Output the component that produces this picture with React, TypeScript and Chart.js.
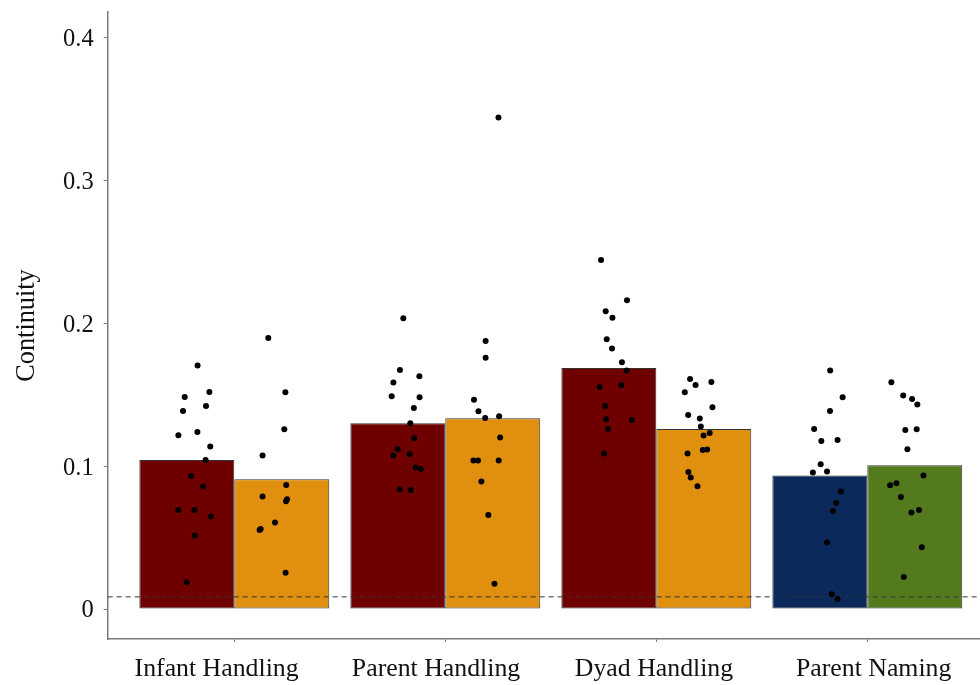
import React, { useEffect, useRef } from "react";
import { Chart, registerables } from "chart.js";

Chart.register(...registerables);

// Categories along the x axis
const categories = ["Infant Handling", "Parent Handling", "Dyad Handling", "Parent Naming"];
// Horizontal anchor of each category caption (category units)
const captionPositions = [0.916, 1.956, 2.989, 4.03];

// Mean continuity per bar (left and right bar of each category)
const leftBarValues = [0.1044, 0.1301, 0.1688, 0.0934];
const rightBarValues = [0.0908, 0.1336, 0.1261, 0.1007];
const leftBarColors = ["#6f0000", "#6f0000", "#6f0000", "#0b2a5b"];
const rightBarColors = ["#e0900e", "#e0900e", "#e0900e", "#537b1e"];

// Chance level drawn as a dashed reference line
const chanceLevel = 0.0085;

// Y tick values
const yTicks = [0, 0.1, 0.2, 0.3, 0.4];

// Individual participant scores, with horizontal jitter (category units) from bar centre
const infantLeftValues = [0.1705, 0.1485, 0.152, 0.1387, 0.1422, 0.1217, 0.124, 0.1137, 0.1044, 0.0932, 0.0857, 0.0694, 0.0694, 0.0647, 0.0514, 0.0187];
const infantLeftJitter = [0.051, -0.01, 0.107, -0.018, 0.091, -0.04, 0.05, 0.111, 0.089, 0.02, 0.077, -0.04, 0.036, 0.115, 0.037, -0.001];
const infantRightValues = [0.1898, 0.1518, 0.1259, 0.1074, 0.0869, 0.0787, 0.0768, 0.0754, 0.0605, 0.056, 0.0553, 0.0254];
const infantRightJitter = [-0.064, 0.017, 0.012, -0.091, 0.021, -0.091, 0.025, 0.02, -0.032, -0.1, -0.105, 0.018];

const parentLeftValues = [0.2036, 0.1674, 0.163, 0.1586, 0.149, 0.1483, 0.1408, 0.1301, 0.1196, 0.1119, 0.1083, 0.1074, 0.099, 0.0981, 0.0838, 0.0834];
const parentLeftJitter = [0.026, 0.01, 0.102, -0.021, -0.029, 0.103, 0.076, 0.059, 0.078, -0.001, 0.056, -0.021, 0.084, 0.109, 0.009, 0.061];
const parentRightValues = [0.3442, 0.1877, 0.176, 0.1466, 0.1385, 0.135, 0.1338, 0.12, 0.1039, 0.1039, 0.1039, 0.0892, 0.0659, 0.0177];
const parentRightJitter = [0.027, -0.034, -0.034, -0.089, -0.068, 0.03, -0.036, 0.035, -0.092, -0.07, 0.028, -0.054, -0.021, 0.008];

const dyadLeftValues = [0.2443, 0.2162, 0.2085, 0.2039, 0.1889, 0.1824, 0.1728, 0.167, 0.1567, 0.1555, 0.1422, 0.1329, 0.1324, 0.1261, 0.1088];
const dyadLeftJitter = [-0.037, 0.086, -0.015, 0.017, -0.01, 0.015, 0.062, 0.084, 0.059, -0.044, -0.018, -0.012, 0.109, -0.004, -0.023];
const dyadRightValues = [0.1611, 0.159, 0.1569, 0.1518, 0.1413, 0.1359, 0.1333, 0.1277, 0.1233, 0.1214, 0.1116, 0.1114, 0.1088, 0.096, 0.092, 0.086];
const dyadRightJitter = [-0.065, 0.036, -0.039, -0.09, 0.041, -0.074, -0.019, -0.014, 0.028, -0.001, 0.016, -0.005, -0.077, -0.073, -0.062, -0.03];

const namingLeftValues = [0.167, 0.1483, 0.1387, 0.1261, 0.1184, 0.1177, 0.1014, 0.0962, 0.0955, 0.0822, 0.0743, 0.0687, 0.0465, 0.0103, 0.007];
const namingLeftJitter = [0.049, 0.108, 0.048, -0.027, 0.084, 0.007, 0.004, 0.034, -0.033, 0.1, 0.078, 0.062, 0.034, 0.056, 0.084];
const namingRightValues = [0.1588, 0.1495, 0.1471, 0.1431, 0.1259, 0.1254, 0.1119, 0.0934, 0.0881, 0.0867, 0.0785, 0.0694, 0.0675, 0.0432, 0.0224];
const namingRightJitter = [-0.111, -0.055, -0.013, 0.012, 0.009, -0.045, -0.035, 0.041, -0.087, -0.117, -0.066, 0.02, -0.016, 0.033, -0.052];

const pointGroups = [
  { cat: 0, side: -1, values: infantLeftValues, jitter: infantLeftJitter },
  { cat: 0, side: 1, values: infantRightValues, jitter: infantRightJitter },
  { cat: 1, side: -1, values: parentLeftValues, jitter: parentLeftJitter },
  { cat: 1, side: 1, values: parentRightValues, jitter: parentRightJitter },
  { cat: 2, side: -1, values: dyadLeftValues, jitter: dyadLeftJitter },
  { cat: 2, side: 1, values: dyadRightValues, jitter: dyadRightJitter },
  { cat: 3, side: -1, values: namingLeftValues, jitter: namingLeftJitter },
  { cat: 3, side: 1, values: namingRightValues, jitter: namingRightJitter },
];

const CATEGORY_PCT = 0.9;
const X_MIN = 0.4;
const X_MAX = 4.534;
const Y_MIN = -0.021;
const Y_MAX = 0.418;

const SERIF = "'Liberation Serif', 'Times New Roman', serif";
const AXIS_GREY = "#7a7a7a";
const TEXT = "#111111";

export default function App() {
  const canvasRef = useRef<HTMLCanvasElement>(null);

  useEffect(() => {
    document.body.style.margin = "0";
    const canvas = canvasRef.current;
    if (!canvas) return;

    const barOffset = CATEGORY_PCT / 4;

    const pointDatasets = pointGroups.map((g) => ({
      type: "scatter" as const,
      data: g.values.map((v, i) => ({ x: g.cat + 1 + g.side * barOffset + g.jitter[i], y: v })),
      backgroundColor: "#000000",
      borderWidth: 0,
      pointRadius: 3,
      order: 0,
    }));

    const noEdgePadding = (scale: any) => {
      scale.paddingTop = 0;
      scale.paddingBottom = 0;
      scale.paddingLeft = 0;
      scale.paddingRight = 0;
    };

    const chart = new Chart(canvas, {
      type: "bar",
      data: {
        datasets: [
          ...pointDatasets,
          {
            type: "line" as const,
            data: [
              { x: X_MIN, y: chanceLevel },
              { x: X_MAX, y: chanceLevel },
            ],
            borderColor: "#333333",
            borderWidth: 1,
            borderDash: [5, 4],
            pointRadius: 0,
            order: 1,
          },
          {
            type: "bar" as const,
            data: leftBarValues.map((v, i) => ({ x: i + 1, y: v })),
            backgroundColor: leftBarColors,
            borderColor: "#333333",
            borderWidth: 1,
            borderSkipped: false,
            categoryPercentage: CATEGORY_PCT,
            barPercentage: 1,
            order: 2,
          },
          {
            type: "bar" as const,
            data: rightBarValues.map((v, i) => ({ x: i + 1, y: v })),
            backgroundColor: rightBarColors,
            borderColor: "#333333",
            borderWidth: 1,
            borderSkipped: false,
            categoryPercentage: CATEGORY_PCT,
            barPercentage: 1,
            order: 2,
          },
        ] as any,
      },
      options: {
        animation: false,
        responsive: false,
        maintainAspectRatio: false,
        layout: { autoPadding: false, padding: { left: 0, right: 0, top: 12, bottom: 0 } },
        plugins: { legend: { display: false }, tooltip: { enabled: false } },
        scales: {
          // axis line and tick marks at the category centres
          x: {
            type: "linear",
            position: "bottom",
            weight: 0,
            min: X_MIN,
            max: X_MAX,
            offset: false,
            afterBuildTicks: (scale: any) => {
              scale.ticks = categories.map((_, i) => ({ value: i + 1 }));
            },
            afterFit: (scale: any) => {
              scale.height = 4;
              noEdgePadding(scale);
            },
            ticks: { display: false, autoSkip: false },
            grid: { offset: false, drawOnChartArea: false, drawTicks: true, tickLength: 3, color: AXIS_GREY, lineWidth: 1 },
            border: { display: true, color: AXIS_GREY, width: 1.5 },
          },
          // category captions
          xCaption: {
            type: "linear",
            position: "bottom",
            weight: 1,
            min: X_MIN,
            max: X_MAX,
            offset: false,
            afterBuildTicks: (scale: any) => {
              scale.ticks = captionPositions.map((v) => ({ value: v }));
            },
            afterFit: (scale: any) => {
              scale.height = 42;
              noEdgePadding(scale);
            },
            ticks: {
              autoSkip: false,
              maxRotation: 0,
              padding: 11,
              color: TEXT,
              font: { family: SERIF, size: 25.8 },
              callback: (_v: any, index: number) => categories[index],
            },
            grid: { display: false, drawTicks: false },
            border: { display: false },
          },
          y: {
            type: "linear",
            min: Y_MIN,
            max: Y_MAX,
            afterBuildTicks: (scale: any) => {
              scale.ticks = yTicks.map((v) => ({ value: v }));
            },
            afterFit: (scale: any) => {
              scale.width = 107.7;
              noEdgePadding(scale);
            },
            ticks: {
              padding: 10,
              labelOffset: 2,
              color: TEXT,
              font: { family: SERIF, size: 24.5 },
              callback: (v: any) => (Number(v) === 0 ? "0" : Number(v).toFixed(1)),
            },
            title: {
              display: true,
              text: "Continuity",
              color: TEXT,
              font: { family: SERIF, size: 26.3 },
              padding: { top: 11, bottom: 0 },
            },
            grid: { drawOnChartArea: false, drawTicks: true, tickLength: 4, color: AXIS_GREY, lineWidth: 1 },
            border: { display: true, color: AXIS_GREY, width: 1.5 },
          },
        },
      } as any,
    });

    return () => chart.destroy();
  }, []);

  return <canvas ref={canvasRef} width={980} height={685} style={{ display: "block" }} />;
}
